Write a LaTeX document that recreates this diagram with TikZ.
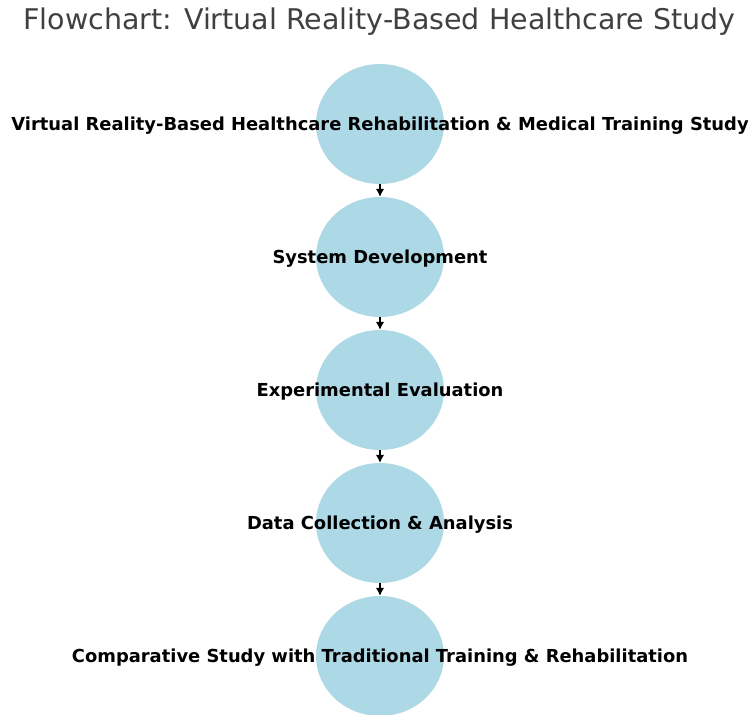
\documentclass[tikz,border=0pt]{standalone}
\usepackage{fontspec}
\setmainfont{DejaVu Sans}
\usetikzlibrary{arrows.meta,shapes.geometric}
\definecolor{nodefill}{HTML}{ADD8E6}
\definecolor{titlegray}{HTML}{404040}
\begin{document}
\begin{tikzpicture}[x=1pt,y=-1pt,
  stage/.style={ellipse, fill=nodefill, minimum width=128pt, minimum height=120pt, inner sep=0pt},
  stagetext/.style={font=\bfseries\fontsize{17.9}{20}\selectfont, text=black},
  flow/.style={-{Latex[length=8pt,width=8.5pt]}, line width=1.3pt, black, shorten >=0pt}]
\useasboundingbox (0,0) rectangle (750,715);
\node[font=\fontsize{28.5}{32}\selectfont, text=titlegray] (title) at (379.5,22) {Flowchart: Virtual Reality-Based Healthcare Study};
\node[stage] (s1) at (380,124) {};
\node[stage] (s2) at (380,257) {};
\node[stage] (s3) at (380,390) {};
\node[stage] (s4) at (380,523) {};
\node[stage] (s5) at (380,656) {};
\node[stagetext] (t1) at (380,125.5) {Virtual Reality-Based Healthcare Rehabilitation \& Medical Training Study};
\node[stagetext] (t2) at (380,258.5) {System Development};
\node[stagetext] (t3) at (380,391.5) {Experimental Evaluation};
\node[stagetext] (t4) at (380,524.5) {Data Collection \& Analysis};
\node[stagetext] (t5) at (380,657.5) {Comparative Study with Traditional Training \& Rehabilitation};
\draw[flow] (s1.south) -- (s2.north);
\draw[flow] (s2.south) -- (s3.north);
\draw[flow] (s3.south) -- (s4.north);
\draw[flow] (s4.south) -- (s5.north);
\end{tikzpicture}
\end{document}
